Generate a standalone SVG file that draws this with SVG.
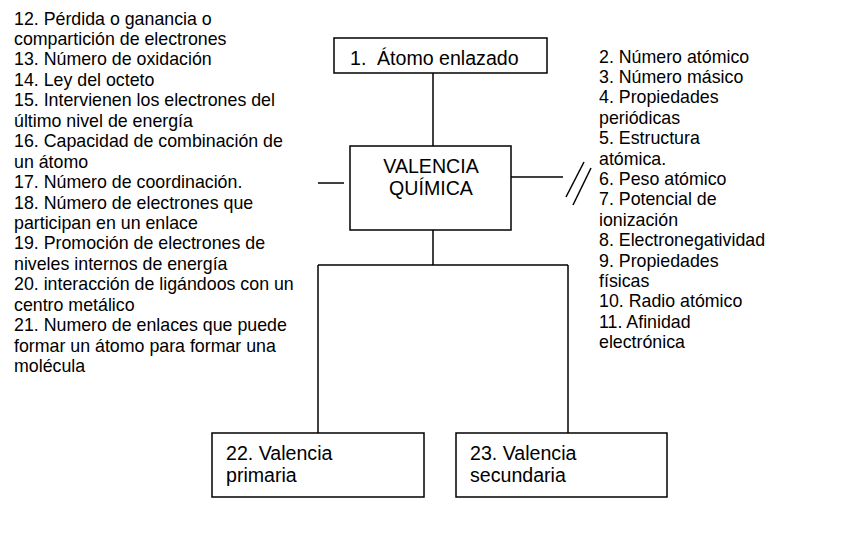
<svg xmlns="http://www.w3.org/2000/svg" width="850" height="535" viewBox="0 0 850 535">
<style>
  .box { fill: #fff; stroke: #000; stroke-width: 1.5; }
  .ln { stroke: #000; stroke-width: 1.5; fill: none; }
  .bt { font-family: "Liberation Sans", Arial, sans-serif; font-size: 19.6px; fill: #000; }
  .lt { font-family: "Liberation Sans", Arial, sans-serif; font-size: 17.8px; fill: #000; }
</style>
<rect width="850" height="535" fill="#fff"/>
<g id="connectors">
  <line class="ln" x1="433" y1="73" x2="433" y2="146"/>
  <line class="ln" x1="433" y1="230" x2="433" y2="265"/>
  <line class="ln" x1="318" y1="265" x2="568" y2="265"/>
  <line class="ln" x1="318" y1="265" x2="318" y2="433"/>
  <line class="ln" x1="568" y1="265" x2="568" y2="433"/>
  <line class="ln" x1="318" y1="183" x2="344" y2="183"/>
  <line class="ln" x1="511" y1="177" x2="563" y2="177"/>
  <line class="ln" x1="566" y1="197" x2="584" y2="162"/>
  <line class="ln" x1="573" y1="205" x2="591" y2="168"/>
</g>
<g id="node-atomo">
  <rect class="box" x="334" y="38" width="213" height="35"/>
  <text class="bt" y="65"><tspan x="350">1.</tspan><tspan x="377">Átomo enlazado</tspan></text>
</g>
<g id="node-valencia">
  <rect class="box" x="350" y="146" width="161" height="84"/>
  <text class="bt" text-anchor="middle"><tspan x="431" y="173">VALENCIA</tspan><tspan x="431" y="195">QUÍMICA</tspan></text>
</g>
<g id="node-primaria">
  <rect class="box" x="212" y="433" width="212" height="64"/>
  <text class="bt"><tspan x="226" y="460">22. Valencia</tspan><tspan x="226" y="482">primaria</tspan></text>
</g>
<g id="node-secundaria">
  <rect class="box" x="456" y="433" width="211" height="64"/>
  <text class="bt"><tspan x="470" y="460">23. Valencia</tspan><tspan x="470" y="482">secundaria</tspan></text>
</g>
<g id="list-left">
  <text class="lt">
    <tspan x="14" y="24.5">12. Pérdida o ganancia o</tspan>
    <tspan x="14" y="44.9">compartición de electrones</tspan>
    <tspan x="14" y="65.4">13. Número de oxidación</tspan>
    <tspan x="14" y="85.8">14. Ley del octeto</tspan>
    <tspan x="14" y="106.3">15. Intervienen los electrones del</tspan>
    <tspan x="14" y="126.7">último nivel de energía</tspan>
    <tspan x="14" y="147.2">16. Capacidad de combinación de</tspan>
    <tspan x="14" y="167.6">un átomo</tspan>
    <tspan x="14" y="188.1">17. Número de coordinación.</tspan>
    <tspan x="14" y="208.5">18. Número de electrones que</tspan>
    <tspan x="14" y="229.0">participan en un enlace</tspan>
    <tspan x="14" y="249.4">19. Promoción de electrones de</tspan>
    <tspan x="14" y="269.9">niveles internos de energía</tspan>
    <tspan x="14" y="290.3">20. interacción de ligándoos con un</tspan>
    <tspan x="14" y="310.8">centro metálico</tspan>
    <tspan x="14" y="331.2">21. Numero de enlaces que puede</tspan>
    <tspan x="14" y="351.7">formar un átomo para formar una</tspan>
    <tspan x="14" y="372.1">molécula</tspan>
  </text>
</g>
<g id="list-right">
  <text class="lt">
    <tspan x="599" y="62.5">2. Número atómico</tspan>
    <tspan x="599" y="82.9">3. Número másico</tspan>
    <tspan x="599" y="103.3">4. Propiedades</tspan>
    <tspan x="599" y="123.7">periódicas</tspan>
    <tspan x="599" y="144.1">5. Estructura</tspan>
    <tspan x="599" y="164.5">atómica.</tspan>
    <tspan x="599" y="184.9">6. Peso atómico</tspan>
    <tspan x="599" y="205.3">7. Potencial de</tspan>
    <tspan x="599" y="225.7">ionización</tspan>
    <tspan x="599" y="246.1">8. Electronegatividad</tspan>
    <tspan x="599" y="266.5">9. Propiedades</tspan>
    <tspan x="599" y="286.9">físicas</tspan>
    <tspan x="599" y="307.3">10. Radio atómico</tspan>
    <tspan x="599" y="327.7">11. Afinidad</tspan>
    <tspan x="599" y="348.1">electrónica</tspan>
  </text>
</g>
</svg>
